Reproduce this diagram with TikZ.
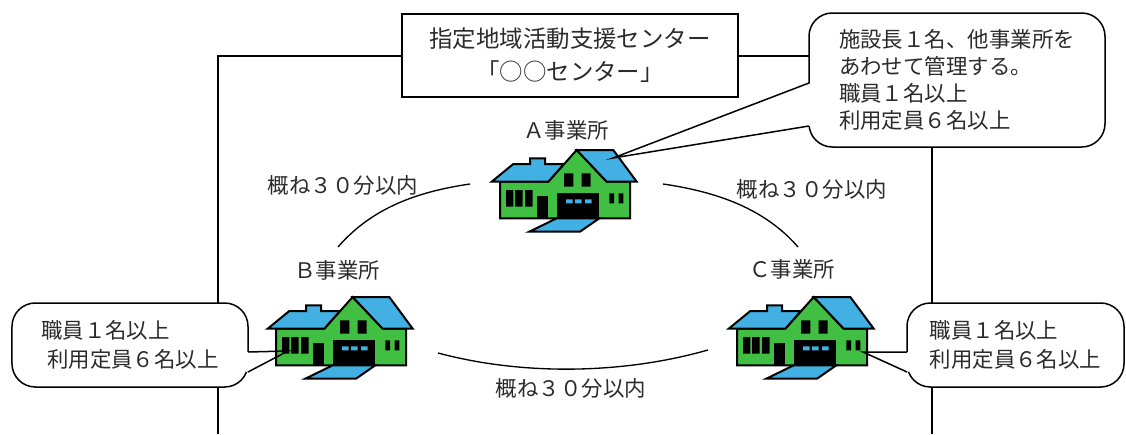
\documentclass[tikz,border=0pt]{standalone}
\usepackage{fontspec}
\setmainfont{Noto Sans CJK JP}
\usepackage{tikz}
\definecolor{houseGreen}{HTML}{40BF42}
\definecolor{houseBlue}{HTML}{42B0E2}
\definecolor{inkGray}{HTML}{2B2B2B}

\tikzset{
  houseline/.style={line width=0.6mm,line join=miter},
  house/.pic={
    % walls with the gable
    \draw[houseline,fill=houseGreen] (20,41.7) -- (68.3,41.7) -- (96.7,10) -- (126.7,41.7) -- (150,41.7) -- (150,78.3) -- (20,78.3) -- cycle;
    % roofs
    \draw[houseline,fill=houseBlue] (11.7,41.7) -- (33.3,24) -- (50,24) -- (50,18.3) -- (65,18.3) -- (65,24) -- (84,24) -- (68.3,41.7) -- cycle;
    \draw[houseline,fill=houseBlue] (96.7,10) -- (133.3,10) -- (156.7,41.7) -- (126.7,41.7) -- cycle;
    % windows and door
    \fill (26,50) rectangle (33.3,66.7) (35,50) rectangle (42.7,66.7) (45,50) rectangle (52.7,66.7);
    \fill (57.3,56) rectangle (67.7,78.3);
    \fill (84,33.3) rectangle (93.3,46.7) (101.7,33.3) rectangle (110.7,46.7);
    \fill (129.3,53.3) rectangle (134,63.3) (138.7,53.3) rectangle (143.3,63.3);
    % garage
    \fill (77.3,52.7) rectangle (119.3,78.3);
    \fill[houseBlue] (86,59.3) rectangle (92.7,63.3) (95,59.3) rectangle (101.7,63.3) (105,59.3) rectangle (111.7,63.3);
    % driveway
    \draw[houseline,fill=houseBlue] (76.7,78.3) -- (119.3,78.3) -- (100,91.7) -- (49.3,91.7) -- cycle;
  }
}

\begin{document}
\begin{tikzpicture}[x=0.3mm,y=-0.3mm,
  every node/.style={text=inkGray,font=\fontsize{18.3pt}{24.7pt}\selectfont},
  frame/.style={line width=0.45mm},
  titlebox/.style={draw=black,fill=white,line width=0.45mm,align=center,minimum width=100.8mm,minimum height=24.9mm,
    font=\fontsize{20pt}{28pt}\selectfont},
  callout/.style={draw=black,fill=white,line width=0.45mm,rounded corners=7mm,align=left,minimum height=25.2mm},
  wedge/.style={line width=0.45mm},
  route/.style={line width=0.4mm}]
\useasboundingbox (0,0) rectangle (1126,434);
\draw[frame] (218,434) -- (218,56) -- (932,56) -- (932,434);
\node[titlebox] (hq) at (570,55.5) {指定地域活動支援センター\\「○○センター」};

% speech boxes
\node[callout,minimum width=88.8mm,minimum height=40.2mm,font=\fontsize{18.3pt}{23pt}\selectfont] (noteA) at (957,80)
  {施設長１名、他事業所を\\あわせて管理する。\\職員１名以上\\利用定員６名以上};
\node[callout,minimum width=70.8mm] (noteB) at (130,345) {職員１名以上\\\hspace{1.8mm}利用定員６名以上};
\node[callout,minimum width=65.1mm] (noteC) at (1015.5,345) {職員１名以上\\利用定員６名以上};
\coordinate (tipA) at (613,158);
\coordinate (tipB) at (288,351);
\coordinate (tipC) at (863,352);
\fill[white] (tipA) -- (811,83) -- (811,126) -- cycle;
\fill[white] (tipB) -- (246,352) -- (246,372) -- cycle;
\fill[white] (tipC) -- (909,352) -- (909,372) -- cycle;

% offices
\pic (hA) at (480,140) {house};
\pic (hB) at (256,287) {house};
\pic (hC) at (717,287) {house};
\draw[wedge] (809,83) -- (tipA) -- (809,126);
\draw[wedge] (248,352) -- (tipB) -- (248,372);
\draw[wedge] (907,352) -- (tipC) -- (907,372);

\node (lbA) at (566,130) {Ａ事業所};
\node (lbB) at (337,270) {Ｂ事業所};
\node (lbC) at (792,269) {Ｃ事業所};

% travel time between offices
\coordinate (ab1) at (338,247); \coordinate (ab2) at (470,184);
\coordinate (ac1) at (663,184); \coordinate (ac2) at (798,247);
\coordinate (bc1) at (438,353); \coordinate (bc2) at (708,350);
\draw[route] (ab1) .. controls (371,209) and (415,192) .. (ab2);
\draw[route] (ac1) .. controls (718,192) and (765,209) .. (ac2);
\draw[route] (bc1) .. controls (520,375) and (620,375) .. (bc2);
\node (tAB) at (343,185) {概ね３０分以内};
\node (tAC) at (812,189) {概ね３０分以内};
\node (tBC) at (571,388) {概ね３０分以内};
\end{tikzpicture}
\end{document}
